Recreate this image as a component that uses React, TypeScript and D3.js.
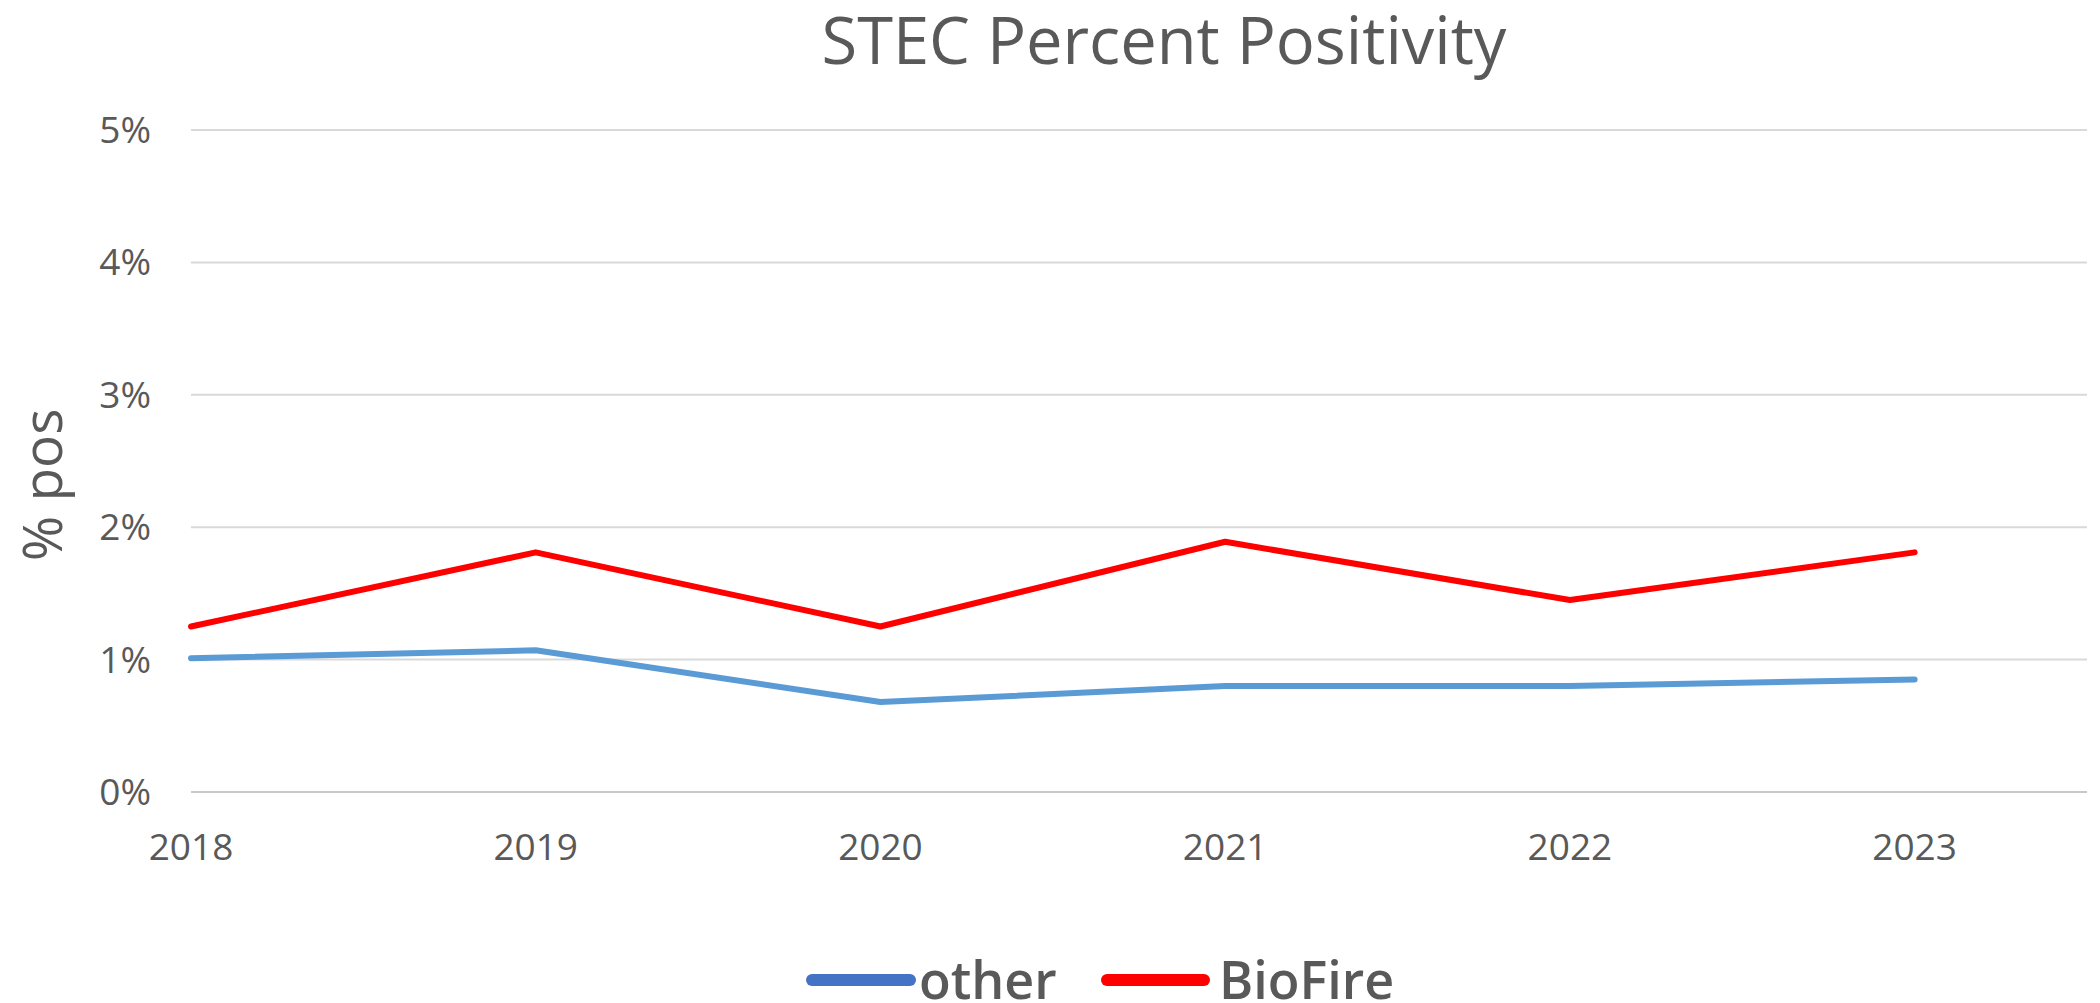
import React, { useEffect, useRef } from 'react';
import * as d3 from 'd3';

const years = [2018, 2019, 2020, 2021, 2022, 2023];
const otherValues = [1.01, 1.07, 0.68, 0.8, 0.8, 0.85];
const bioFireValues = [1.25, 1.81, 1.25, 1.89, 1.45, 1.81];
const yTicks = [0, 1, 2, 3, 4, 5];

const series = [
    { name: 'other', values: otherValues, color: '#5B9BD5', legendColor: '#4472C4' },
    { name: 'BioFire', values: bioFireValues, color: '#FF0000', legendColor: '#FF0000' },
];

const App: React.FC = () => {
    const svgRef = useRef<SVGSVGElement | null>(null);

    useEffect(() => {
        document.body.style.margin = '0';

        const svg = d3.select(svgRef.current);
        const width = 2100;
        const height = 1003;
        const margin = { top: 130, right: 13, bottom: 211, left: 191 };
        const font = "'Open Sans', sans-serif";
        const textColor = '#595959';

        svg.selectAll('*').remove();

        // escalas
        const x = d3
            .scaleLinear()
            .domain([2018, 2023.5])
            .range([margin.left, width - margin.right]);

        const y = d3
            .scaleLinear()
            .domain([0, 5])
            .range([height - margin.bottom, margin.top]);

        // titulo
        svg
            .append('text')
            .attr('x', 1164)
            .attr('y', 64)
            .attr('text-anchor', 'middle')
            .attr('font-family', font)
            .attr('font-size', 65)
            .attr('fill', textColor)
            .text('STEC Percent Positivity');

        // lineas de la grilla
        svg
            .append('g')
            .selectAll('line')
            .data(yTicks)
            .join('line')
            .attr('x1', margin.left)
            .attr('x2', width - margin.right)
            .attr('y1', d => y(d))
            .attr('y2', d => y(d))
            .attr('stroke', d => (d === 0 ? '#c8c8c8' : '#d9d9d9'))
            .attr('stroke-width', 2);

        // etiquetas eje y
        svg
            .append('g')
            .selectAll('text')
            .data(yTicks)
            .join('text')
            .attr('x', 151)
            .attr('y', d => y(d) + 13)
            .attr('text-anchor', 'end')
            .attr('font-family', font)
            .attr('font-size', 37)
            .attr('fill', textColor)
            .text(d => `${d}%`);

        // etiquetas eje x
        svg
            .append('g')
            .selectAll('text')
            .data(years)
            .join('text')
            .attr('x', d => x(d))
            .attr('y', 860)
            .attr('text-anchor', 'middle')
            .attr('font-family', font)
            .attr('font-size', 37)
            .attr('fill', textColor)
            .text(d => String(d));

        // titulo eje y
        svg
            .append('text')
            .attr('transform', 'translate(62,485) rotate(-90)')
            .attr('text-anchor', 'middle')
            .attr('font-family', font)
            .attr('font-size', 55)
            .attr('font-weight', 500)
            .attr('fill', textColor)
            .text('% pos');

        // lineas
        const line = d3
            .line<number>()
            .x((_, i) => x(years[i]))
            .y(d => y(d));

        svg
            .append('g')
            .selectAll('path')
            .data(series)
            .join('path')
            .attr('d', d => line(d.values))
            .attr('fill', 'none')
            .attr('stroke', d => d.color)
            .attr('stroke-width', 6)
            .attr('stroke-linejoin', 'round')
            .attr('stroke-linecap', 'round');

        // leyenda
        const legendItems = [
            { x1: 812, x2: 910, tx: 919 },
            { x1: 1107, x2: 1204, tx: 1219 },
        ];
        const legend = svg
            .append('g')
            .selectAll('g')
            .data(series)
            .join('g');

        legend
            .append('line')
            .attr('x1', (_, i) => legendItems[i].x1)
            .attr('x2', (_, i) => legendItems[i].x2)
            .attr('y1', 980)
            .attr('y2', 980)
            .attr('stroke', d => d.legendColor)
            .attr('stroke-width', 12)
            .attr('stroke-linecap', 'round');

        legend
            .append('text')
            .attr('x', (_, i) => legendItems[i].tx)
            .attr('y', 999)
            .attr('font-family', font)
            .attr('font-size', 52)
            .attr('font-weight', 600)
            .attr('fill', textColor)
            .text(d => d.name);
    }, []);

    return <svg ref={svgRef} width={2100} height={1003} style={{ display: 'block' }}></svg>;
};

export default App;
